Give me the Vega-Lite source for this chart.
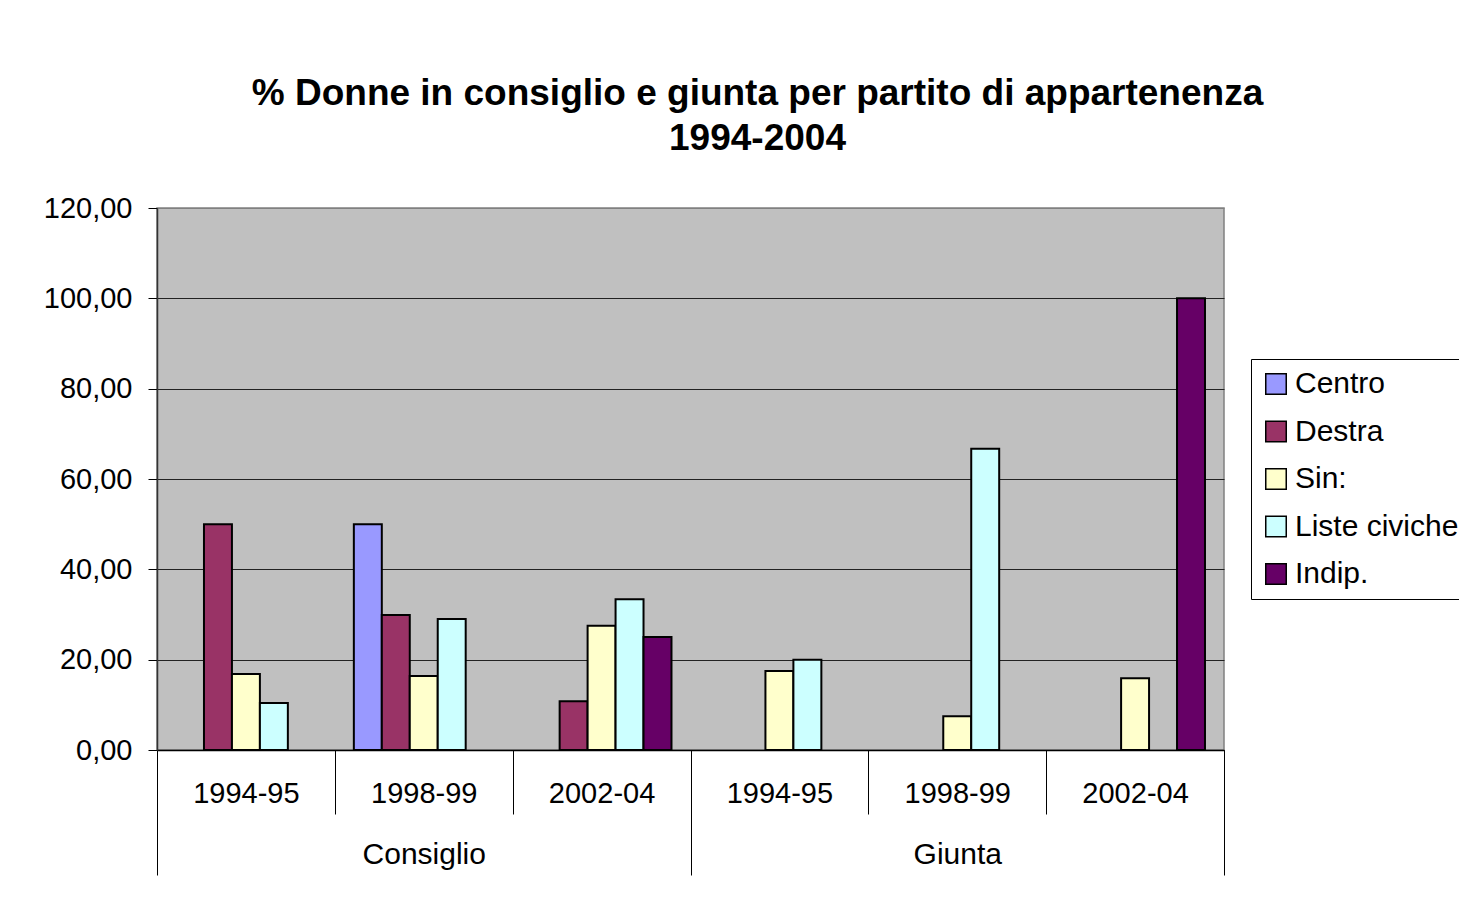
{
  "$schema": "https://vega.github.io/schema/vega-lite/v6.json",
  "width": 1067,
  "height": 542,
  "autosize": {"type": "none"},
  "padding": {"left": 157, "top": 208, "right": 235, "bottom": 149},
  "background": "white",
  "config": {
    "font": "Liberation Sans",
    "view": {"fill": "#C0C0C0", "stroke": "#808080", "strokeWidth": 1.5}
  },
  "title": {
    "text": ["% Donne in consiglio e giunta per partito di appartenenza", "1994-2004"],
    "fontSize": 37,
    "fontWeight": "bold",
    "font": "Liberation Sans",
    "color": "black",
    "anchor": "middle",
    "frame": "group",
    "dx": 67,
    "offset": 36,
    "lineHeight": 45
  },
  "datasets": {
    "bars": [
      {"chiave": "Consiglio|1994-95", "partito": "Destra", "valore": 50},
      {"chiave": "Consiglio|1994-95", "partito": "Sin:", "valore": 16.8},
      {"chiave": "Consiglio|1994-95", "partito": "Liste civiche", "valore": 10.4},
      {"chiave": "Consiglio|1998-99", "partito": "Centro", "valore": 50},
      {"chiave": "Consiglio|1998-99", "partito": "Destra", "valore": 29.9},
      {"chiave": "Consiglio|1998-99", "partito": "Sin:", "valore": 16.4},
      {"chiave": "Consiglio|1998-99", "partito": "Liste civiche", "valore": 29.0},
      {"chiave": "Consiglio|2002-04", "partito": "Destra", "valore": 10.8},
      {"chiave": "Consiglio|2002-04", "partito": "Sin:", "valore": 27.5},
      {"chiave": "Consiglio|2002-04", "partito": "Liste civiche", "valore": 33.4},
      {"chiave": "Consiglio|2002-04", "partito": "Indip.", "valore": 25.0},
      {"chiave": "Giunta|1994-95", "partito": "Sin:", "valore": 17.5},
      {"chiave": "Giunta|1994-95", "partito": "Liste civiche", "valore": 20.0},
      {"chiave": "Giunta|1998-99", "partito": "Sin:", "valore": 7.5},
      {"chiave": "Giunta|1998-99", "partito": "Liste civiche", "valore": 66.7},
      {"chiave": "Giunta|2002-04", "partito": "Sin:", "valore": 15.9},
      {"chiave": "Giunta|2002-04", "partito": "Indip.", "valore": 100}
    ],
    "sezioni": [
      {"sezione": "Consiglio"},
      {"sezione": "Giunta"}
    ]
  },
  "layer": [
    {
      "data": {"name": "bars"},
      "mark": {"type": "bar", "stroke": "black", "strokeWidth": 2},
      "encoding": {
        "x": {
          "field": "chiave",
          "type": "nominal",
          "sort": ["Consiglio|1994-95", "Consiglio|1998-99", "Consiglio|2002-04", "Giunta|1994-95", "Giunta|1998-99", "Giunta|2002-04"],
          "scale": {"domain": ["Consiglio|1994-95", "Consiglio|1998-99", "Consiglio|2002-04", "Giunta|1994-95", "Giunta|1998-99", "Giunta|2002-04"], "paddingInner": 0, "paddingOuter": 0},
          "axis": {
            "title": null,
            "labelExpr": "split(datum.label, '|')[1]",
            "labelAngle": 0,
            "labelFontSize": 29,
            "labelColor": "black",
            "labelPadding": -35,
            "tickBand": "extent",
            "tickSize": 64,
            "tickColor": "black",
            "tickWidth": 1,
            "domain": true,
            "domainColor": "black",
            "domainWidth": 1.5,
            "grid": false
          }
        },
        "xOffset": {
          "field": "partito",
          "type": "nominal",
          "scale": {"domain": ["Centro", "Destra", "Sin:", "Liste civiche", "Indip."], "paddingInner": 0, "paddingOuter": 0.68}
        },
        "y": {
          "field": "valore",
          "type": "quantitative",
          "scale": {"domain": [0, 120], "nice": false},
          "axis": {
            "title": null,
            "values": [0, 20, 40, 60, 80, 100, 120],
            "labelExpr": "replace(format(datum.value, '.2f'), '.', ',')",
            "labelFontSize": 29,
            "labelColor": "black",
            "labelPadding": 16,
            "tickSize": 9,
            "tickColor": "black",
            "domain": true,
            "domainColor": "#333333",
            "domainWidth": 1.5,
            "grid": true,
            "gridColor": {"condition": {"test": "datum.value === 120", "value": "#808080"}, "value": "#222222"},
            "gridWidth": 1,
            "gridOpacity": 1
          }
        },
        "color": {
          "field": "partito",
          "type": "nominal",
          "scale": {
            "domain": ["Centro", "Destra", "Sin:", "Liste civiche", "Indip."],
            "range": ["#9999FF", "#993366", "#FFFFCC", "#CCFFFF", "#660066"]
          },
          "legend": {
            "title": null,
            "orient": "none",
            "legendX": 1094,
            "legendY": 151,
            "fillColor": "white",
            "strokeColor": "black",
            "padding": 10,
            "symbolType": "square",
            "symbolSize": 420,
            "symbolStrokeColor": "black",
            "symbolStrokeWidth": 1.5,
            "symbolOpacity": 1,
            "labelFontSize": 30,
            "labelColor": "black",
            "labelOffset": 4,
            "labelLimit": 400,
            "rowPadding": 17.5,
            "columnPadding": 0
          }
        }
      }
    },
    {
      "data": {"name": "sezioni"},
      "mark": {"type": "rule", "strokeOpacity": 0},
      "encoding": {
        "x": {
          "field": "sezione",
          "type": "nominal",
          "scale": {"paddingInner": 0, "paddingOuter": 0},
          "axis": {
            "title": null,
            "orient": "bottom",
            "labelAngle": 0,
            "labelFontSize": 30,
            "labelColor": "black",
            "labelPadding": -36,
            "tickBand": "extent",
            "tickSize": 125,
            "tickColor": "black",
            "tickWidth": 1,
            "domain": false,
            "grid": false
          }
        }
      }
    }
  ],
  "resolve": {"scale": {"x": "independent"}}
}
